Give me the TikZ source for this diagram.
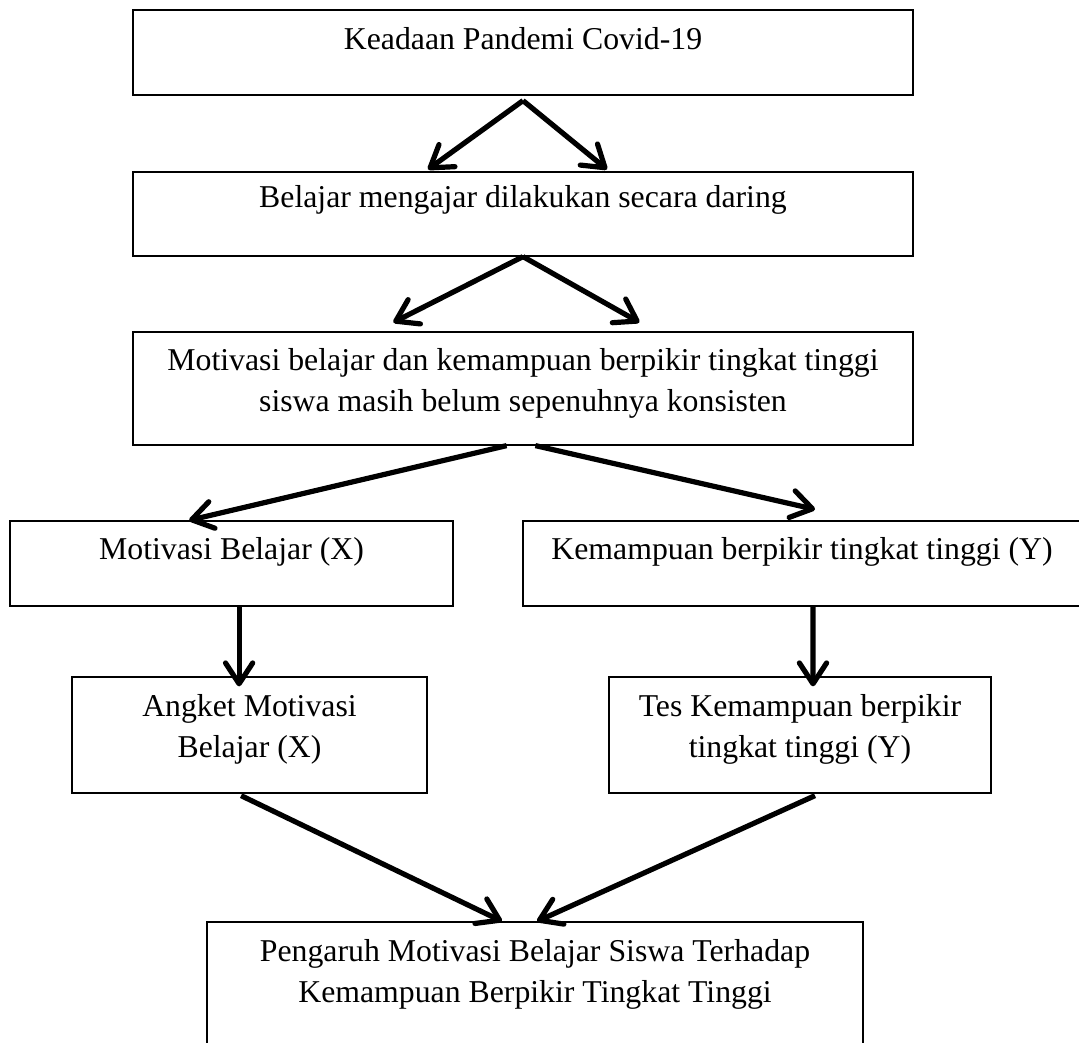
\documentclass[tikz,border=0pt]{standalone}
\usepackage{fontspec}
\setmainfont{Liberation Serif}
\usetikzlibrary{arrows.meta}
\tikzset{
  kotak/.style 2 args={draw, line width=0.9pt, minimum width=#1, minimum height=#2, inner sep=0pt},
  teks/.style={align=center, inner sep=0pt, anchor=base},
  panah/.style={line width=3.7pt, -{Straight Barb[length=5.2mm, width=6.8mm, round]}}
}
\begin{document}
\begin{tikzpicture}[every node/.style={font=\fontsize{22.6}{29.2}\selectfont}]
\useasboundingbox (0,0) rectangle (26.975,-26.075);
% boxes
\node[kotak={19.5cm}{2.125cm}] (keadaan) at (13.075,-1.3125) {};
\node[kotak={19.5cm}{2.1cm}] (daring) at (13.075,-5.35) {};
\node[kotak={19.5cm}{2.825cm}] (masalah) at (13.075,-9.7125) {};
\node[kotak={11.075cm}{2.125cm}] (motivasi) at (5.7875,-14.0875) {};
\node[kotak={13.95cm}{2.125cm}] (kemampuan) at (20.05,-14.0875) {};
\node[kotak={8.875cm}{2.9cm}] (angket) at (6.2375,-18.375) {};
\node[kotak={9.55cm}{2.9cm}] (tes) at (20.0,-18.375) {};
\node[kotak={16.4cm}{3.45cm}] (pengaruh) at (13.375,-24.775) {};
% texts (base = last line)
\node[teks] (tkeadaan) at ([yshift=-1cm]keadaan.north) {Keadaan Pandemi Covid-19};
\node[teks] (tdaring) at ([yshift=-0.9cm]daring.north) {Belajar mengajar dilakukan secara daring};
\node[teks] (tmasalah) at ([yshift=-2cm]masalah.north)
  {Motivasi belajar dan kemampuan berpikir tingkat tinggi\\siswa masih belum sepenuhnya konsisten};
\node[teks] (tmotivasi) at ([yshift=-0.975cm]motivasi.north) {Motivasi Belajar (X)};
\node[teks] (tkemampuan) at ([yshift=-0.975cm]kemampuan.north) {Kemampuan berpikir tingkat tinggi (Y)};
\node[teks] (tangket) at ([yshift=-2.025cm]angket.north) {Angket Motivasi\\Belajar (X)};
\node[teks] (ttes) at ([yshift=-2.025cm]tes.north) {Tes Kemampuan berpikir\\tingkat tinggi (Y)};
\node[teks] (tpengaruh) at ([yshift=-2.025cm]pengaruh.north)
  {Pengaruh Motivasi Belajar Siswa Terhadap\\Kemampuan Berpikir Tingkat Tinggi};
% arrows
\draw[panah] ([yshift=-0.125cm]keadaan.south) -- ([xshift=-2.375cm,yshift=0.05cm]daring.north);
\draw[panah] ([yshift=-0.125cm]keadaan.south) -- ([xshift=2.1cm,yshift=0.05cm]daring.north);
\draw[panah] (daring.south) -- ([xshift=-3.24cm,yshift=0.225cm]masalah.north);
\draw[panah] (daring.south) -- ([xshift=2.91cm,yshift=0.225cm]masalah.north);
\draw[panah] ([xshift=-0.41cm]masalah.south) -- ([xshift=-1.06cm]motivasi.north);
\draw[panah] ([xshift=0.31cm]masalah.south) -- ([xshift=0.325cm,yshift=0.275cm]kemampuan.north);
\draw[panah] ([xshift=0.19cm]motivasi.south) -- ([xshift=-0.26cm,yshift=-0.25cm]angket.north);
\draw[panah] ([xshift=0.275cm]kemampuan.south) -- ([xshift=0.325cm,yshift=-0.25cm]tes.north);
\draw[panah] ([xshift=-0.21cm,yshift=-0.05cm]angket.south) -- ([xshift=-0.825cm]pengaruh.north);
\draw[panah] ([xshift=0.375cm,yshift=-0.05cm]tes.south) -- ([xshift=0.05cm]pengaruh.north);
\end{tikzpicture}
\end{document}
